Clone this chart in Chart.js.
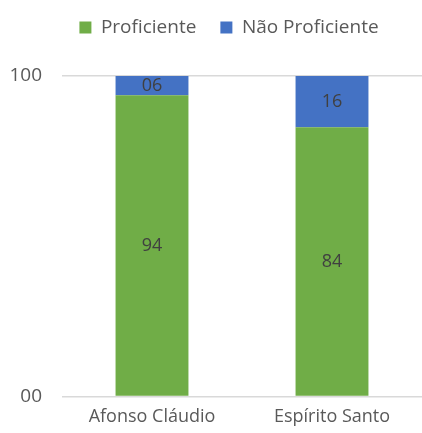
<!DOCTYPE html>
<html>
<head>
<meta charset="utf-8">
<script src="https://cdn.jsdelivr.net/npm/chart.js@4/dist/chart.umd.min.js"></script>
<style>
  html, body { margin: 0; padding: 0; background: #fff; }
  #wrap { width: 422px; height: 433px; }
</style>
</head>
<body>
<div id="wrap"><canvas id="chart"></canvas></div>
<script>
const categories = ['Afonso Cláudio', 'Espírito Santo'];
const proficiente = [94, 84];
const naoProficiente = [6, 16];
const yTicks = [0, 100];

const textColor = '#595959';
const fontFamily = "'Open Sans', 'Noto Sans', sans-serif";

// writes the value in the middle of each bar segment, two digits
const barLabels = {
  id: 'barLabels',
  afterDatasetsDraw (chart) {
    const ctx = chart.ctx;
    ctx.save();
    ctx.font = '18px ' + fontFamily;
    ctx.fillStyle = '#404040';
    ctx.textAlign = 'center';
    ctx.textBaseline = 'middle';
    chart.data.datasets.forEach((ds, i) => {
      chart.getDatasetMeta(i).data.forEach((bar, j) => {
        const p = bar.getProps(['x', 'y', 'base'], true);
        ctx.fillText(String(ds.data[j]).padStart(2, '0'), p.x, (p.y + p.base) / 2);
      });
    });
    ctx.restore();
  }
};

// room under the legend, and the legend moved up a bit / to the right
const legendTweak = {
  id: 'legendTweak',
  beforeInit (chart) {
    const legend = chart.legend;
    const fit = legend.fit;
    legend.fit = function () {
      fit.bind(legend)();
      this.height += 17;
    };
    const draw = legend.draw;
    legend.draw = function () {
      chart.ctx.save();
      chart.ctx.translate(18, -12);
      draw.bind(legend)();
      chart.ctx.restore();
    };
  }
};

new Chart(document.getElementById('chart').getContext('2d'), {
  type: 'bar',
  data: {
    labels: categories,
    datasets: [
      {
        label: 'Proficiente',
        backgroundColor: '#70AD47',
        data: proficiente
      }, {
        label: 'Não Proficiente',
        backgroundColor: '#4472C4',
        data: naoProficiente
      }
    ]
  },
  plugins: [barLabels, legendTweak],
  options: {
    responsive: true,
    maintainAspectRatio: false,
    animation: false,
    layout: { padding: { top: 6, right: 0, bottom: 3, left: 0 } },
    datasets: {
      bar: { categoryPercentage: 1, barPercentage: 0.405 }
    },
    plugins: {
      legend: {
        position: 'top',
        labels: {
          boxWidth: 12,
          boxHeight: 12,
          padding: 24,
          color: textColor,
          font: { family: fontFamily, size: 19 }
        }
      },
      tooltip: { enabled: false }
    },
    scales: {
      x: {
        stacked: true,
        grid: { display: false },
        border: { display: false },
        ticks: {
          color: textColor,
          padding: 2,
          font: { family: fontFamily, size: 18 }
        }
      },
      y: {
        stacked: true,
        min: 0,
        max: 100,
        afterFit (scale) { scale.width = 62; },
        afterBuildTicks (scale) { scale.ticks = yTicks.map(v => ({ value: v })); },
        grid: { color: '#d9d9d9', lineWidth: 1.5, drawTicks: false },
        border: { display: false },
        ticks: {
          color: textColor,
          padding: 20,
          font: { family: fontFamily, size: 19 },
          callback: v => String(v).padStart(2, '0')
        }
      }
    }
  }
});
</script>
</body>
</html>
